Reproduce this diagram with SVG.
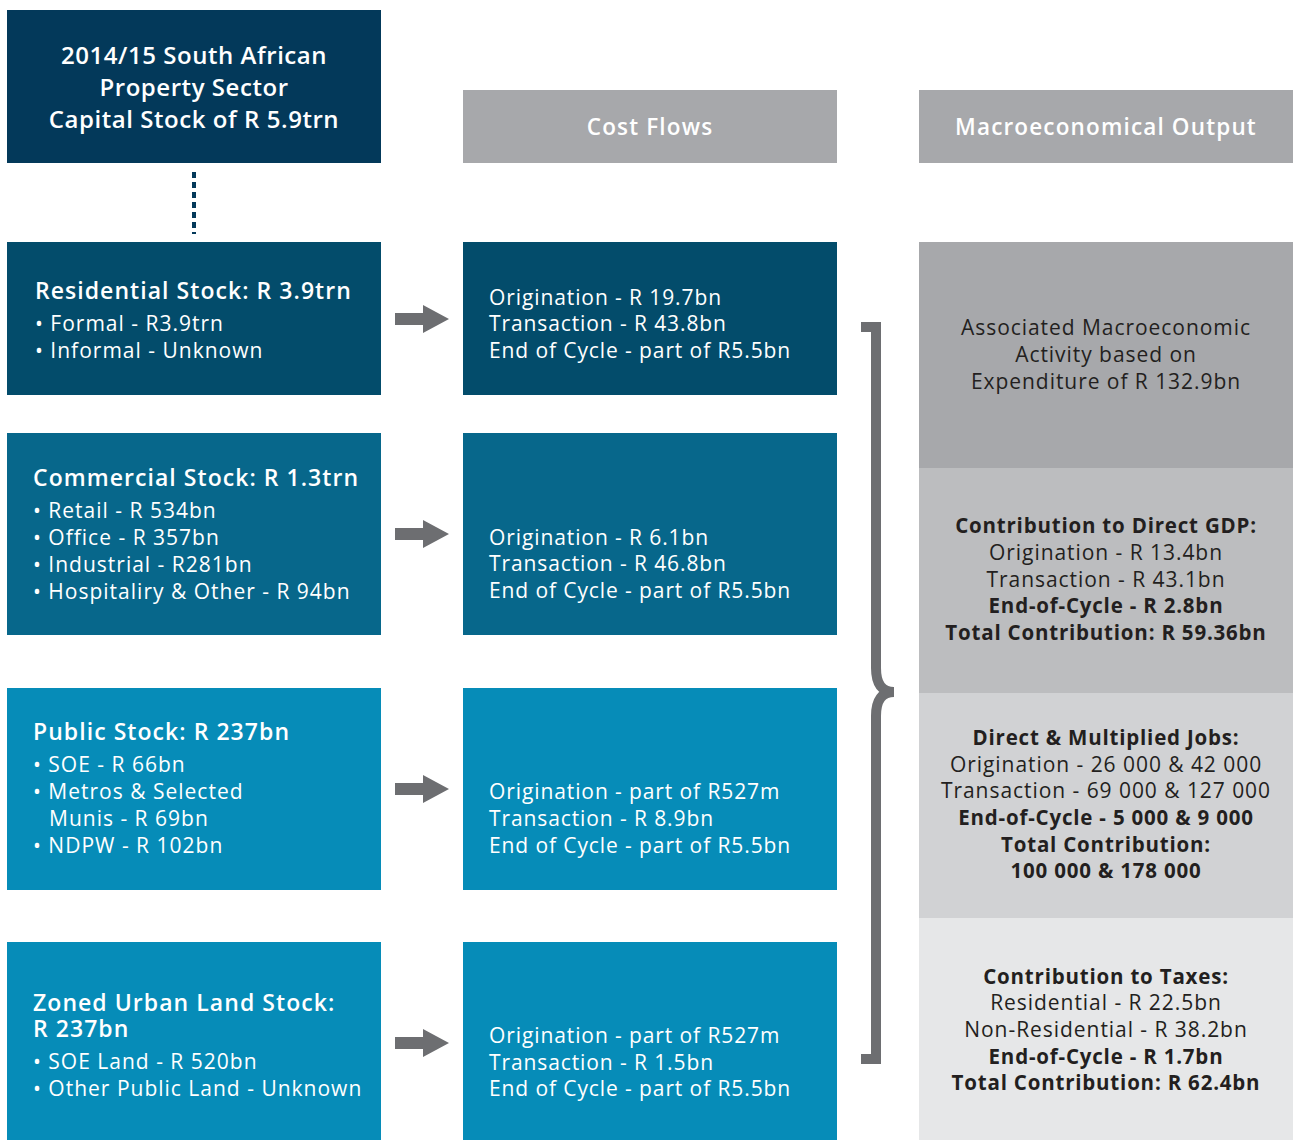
<svg xmlns="http://www.w3.org/2000/svg" width="1293" height="1140" viewBox="0 0 1293 1140">
<style>
text{font-family:"Open Sans","Noto Sans","Liberation Sans",sans-serif}
.w{fill:#fff}
.t{font-size:23px;font-weight:600;letter-spacing:1.05px}
.b{font-size:21px;letter-spacing:0.9px}
.lb{letter-spacing:1px}
.h{font-size:22.5px;font-weight:600;fill:#fff;text-anchor:middle;letter-spacing:1.15px}
.r{font-size:21px;fill:#231f20;text-anchor:middle;letter-spacing:0.95px}
.rb{font-size:20.5px;font-weight:700;letter-spacing:0.8px}
.top{font-size:24px;font-weight:600;letter-spacing:0.55px;text-anchor:middle}
.arrow{fill:#6d6e71}
</style>
<rect width="1293" height="1140" fill="#fff"/>
<g id="capital-stock">
<rect x="7" y="10" width="374" height="153" fill="#03395a"/>
<text class="w top" x="194" y="64">2014/15 South African</text>
<text class="w top" x="194" y="96">Property Sector</text>
<text class="w top" x="194" y="128">Capital Stock of R 5.9trn</text>
</g>
<g id="header-cost">
<rect x="463" y="90" width="374" height="73" fill="#a7a8ab"/>
<text class="h" x="650" y="135">Cost Flows</text>
</g>
<g id="header-macro">
<rect x="919" y="90" width="374" height="73" fill="#a7a8ab"/>
<text class="h" x="1106" y="135">Macroeconomical Output</text>
</g>
<g id="residential">
<rect x="7" y="242" width="374" height="153" fill="#034c6b"/>
<text class="w t" x="35" y="299">Residential Stock: R 3.9trn</text>
<text class="w b lb" x="35" y="331">• Formal - R3.9trn</text>
<text class="w b lb" x="35" y="358">• Informal - Unknown</text>
</g>
<g id="residential-cost">
<rect x="463" y="242" width="374" height="153" fill="#034c6b"/>
<text class="w b" x="489" y="305">Origination - R 19.7bn</text>
<text class="w b" x="489" y="331">Transaction - R 43.8bn</text>
<text class="w b" x="489" y="358">End of Cycle - part of R5.5bn</text>
</g>
<g id="commercial">
<rect x="7" y="433" width="374" height="202" fill="#07678b"/>
<text class="w t" x="33" y="486">Commercial Stock: R 1.3trn</text>
<text class="w b lb" x="33" y="518">• Retail - R 534bn</text>
<text class="w b lb" x="33" y="545">• Office - R 357bn</text>
<text class="w b lb" x="33" y="572">• Industrial - R281bn</text>
<text class="w b lb" x="33" y="599">• Hospitaliry &amp; Other - R 94bn</text>
</g>
<g id="commercial-cost">
<rect x="463" y="433" width="374" height="202" fill="#07678b"/>
<text class="w b" x="489" y="545">Origination - R 6.1bn</text>
<text class="w b" x="489" y="571">Transaction - R 46.8bn</text>
<text class="w b" x="489" y="598">End of Cycle - part of R5.5bn</text>
</g>
<g id="public">
<rect x="7" y="688" width="374" height="202" fill="#068cb8"/>
<text class="w t" x="33" y="740">Public Stock: R 237bn</text>
<text class="w b lb" x="33" y="772">• SOE - R 66bn</text>
<text class="w b lb" x="33" y="799">• Metros &amp; Selected</text>
<text class="w b lb" x="49" y="826">Munis - R 69bn</text>
<text class="w b lb" x="33" y="853">• NDPW - R 102bn</text>
</g>
<g id="public-cost">
<rect x="463" y="688" width="374" height="202" fill="#068cb8"/>
<text class="w b" x="489" y="799">Origination - part of R527m</text>
<text class="w b" x="489" y="826">Transaction - R 8.9bn</text>
<text class="w b" x="489" y="853">End of Cycle - part of R5.5bn</text>
</g>
<g id="land">
<rect x="7" y="942" width="374" height="198" fill="#068cb8"/>
<text class="w t" x="33" y="1011">Zoned Urban Land Stock:</text>
<text class="w t" x="33" y="1037">R 237bn</text>
<text class="w b lb" x="33" y="1069">• SOE Land - R 520bn</text>
<text class="w b lb" x="33" y="1096">• Other Public Land - Unknown</text>
</g>
<g id="land-cost">
<rect x="463" y="942" width="374" height="198" fill="#068cb8"/>
<text class="w b" x="489" y="1043">Origination - part of R527m</text>
<text class="w b" x="489" y="1070">Transaction - R 1.5bn</text>
<text class="w b" x="489" y="1096">End of Cycle - part of R5.5bn</text>
</g>
<g id="macro-activity">
<rect x="919" y="242" width="374" height="226" fill="#a7a8ab"/>
<text class="r" x="1106" y="335">Associated Macroeconomic</text>
<text class="r" x="1106" y="362">Activity based on</text>
<text class="r" x="1106" y="389">Expenditure of R 132.9bn</text>
</g>
<g id="macro-gdp">
<rect x="919" y="468" width="374" height="225" fill="#bcbdbf"/>
<text class="r rb" x="1106" y="533">Contribution to Direct GDP:</text>
<text class="r" x="1106" y="560">Origination - R 13.4bn</text>
<text class="r" x="1106" y="587">Transaction - R 43.1bn</text>
<text class="r rb" x="1106" y="613">End-of-Cycle - R 2.8bn</text>
<text class="r rb" x="1106" y="640">Total Contribution: R 59.36bn</text>
</g>
<g id="macro-jobs">
<rect x="919" y="693" width="374" height="225" fill="#d1d2d4"/>
<text class="r rb" x="1106" y="745">Direct &amp; Multiplied Jobs:</text>
<text class="r" x="1106" y="772">Origination - 26 000 &amp; 42 000</text>
<text class="r" x="1106" y="798">Transaction - 69 000 &amp; 127 000</text>
<text class="r rb" x="1106" y="825">End-of-Cycle - 5 000 &amp; 9 000</text>
<text class="r rb" x="1106" y="852">Total Contribution:</text>
<text class="r rb" x="1106" y="878">100 000 &amp; 178 000</text>
</g>
<g id="macro-taxes">
<rect x="919" y="918" width="374" height="222" fill="#e6e7e8"/>
<text class="r rb" x="1106" y="984">Contribution to Taxes:</text>
<text class="r" x="1106" y="1010">Residential - R 22.5bn</text>
<text class="r" x="1106" y="1037">Non-Residential - R 38.2bn</text>
<text class="r rb" x="1106" y="1064">End-of-Cycle - R 1.7bn</text>
<text class="r rb" x="1106" y="1090">Total Contribution: R 62.4bn</text>
</g>
<g id="connectors">
<line x1="194" y1="172" x2="194" y2="234" stroke="#03395a" stroke-width="4" stroke-dasharray="6,4"/>
<path class="arrow" d="M395,313 H423 V305 L449,319 L423,333 V325 H395 Z"/>
<path class="arrow" d="M395,528 H423 V520 L449,534 L423,548 V540 H395 Z"/>
<path class="arrow" d="M395,783 H423 V775 L449,789 L423,803 V795 H395 Z"/>
<path class="arrow" d="M395,1037 H423 V1029 L449,1043 L423,1057 V1049 H395 Z"/>
<path d="M861,327 H876 V668 Q876,692 894,692 Q876,692 876,716 V1059 H861" fill="none" stroke="#6d6e71" stroke-width="10"/>
</g>
</svg>
